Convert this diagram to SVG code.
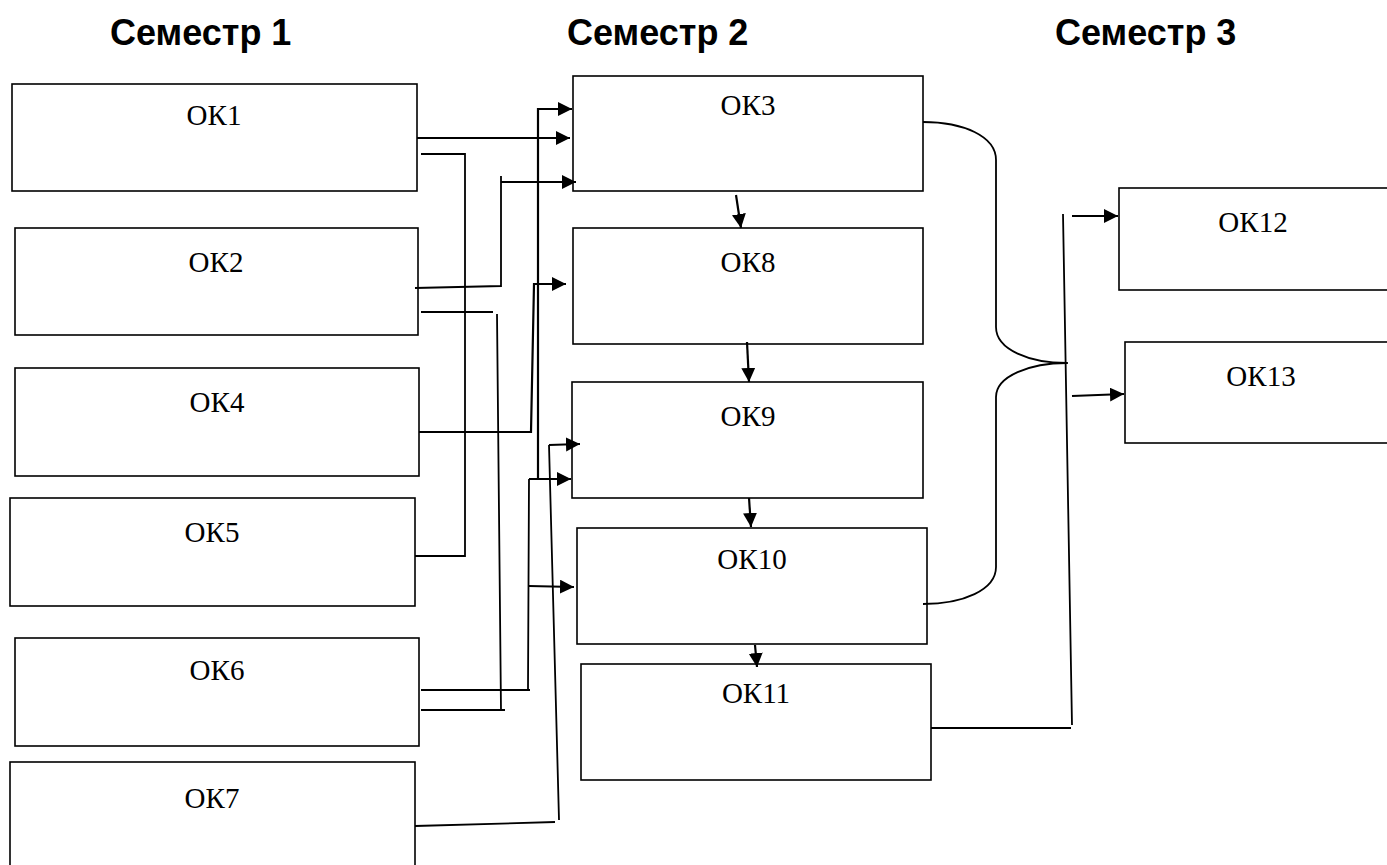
<svg xmlns="http://www.w3.org/2000/svg" width="1387" height="865" viewBox="0 0 1387 865">
<style>
.box{fill:#fff;stroke:#000;stroke-width:1.6}
.lbl{font-family:"Liberation Serif","Times New Roman",serif;font-size:29px;fill:#000;text-anchor:middle}
.ttl{font-family:"Liberation Sans",Arial,sans-serif;font-size:36px;font-weight:bold;fill:#000}
.ln{fill:none;stroke:#000;stroke-width:1.8}
.ar{fill:none;stroke:#000;stroke-width:2.2;marker-end:url(#ah)}
</style>
<defs>
<marker id="ah" markerUnits="userSpaceOnUse" markerWidth="15" markerHeight="15" refX="14" refY="7" orient="auto" viewBox="0 0 15 15">
<path d="M0,0 L14,7 L0,14 z" fill="#000"/>
</marker>
</defs>
<rect width="1387" height="865" fill="#fff"/>
<g id="titles">
<text class="ttl" x="110" y="45">Семестр 1</text>
<text class="ttl" x="567" y="45">Семестр 2</text>
<text class="ttl" x="1055" y="45">Семестр 3</text>
</g>
<g id="ok1"><rect class="box" x="12" y="84" width="405" height="107"/><text class="lbl" x="214" y="125">ОК1</text></g>
<g id="ok2"><rect class="box" x="15" y="228" width="403" height="107"/><text class="lbl" x="216" y="272">ОК2</text></g>
<g id="ok4"><rect class="box" x="15" y="368" width="404" height="108"/><text class="lbl" x="217" y="412">ОК4</text></g>
<g id="ok5"><rect class="box" x="10" y="498" width="405" height="108"/><text class="lbl" x="212" y="542">ОК5</text></g>
<g id="ok6"><rect class="box" x="15" y="638" width="404" height="108"/><text class="lbl" x="217" y="680">ОК6</text></g>
<g id="ok7"><rect class="box" x="10" y="762" width="405" height="110"/><text class="lbl" x="212" y="808">ОК7</text></g>
<g id="ok3"><rect class="box" x="573" y="76" width="350" height="115"/><text class="lbl" x="748" y="115">ОК3</text></g>
<g id="ok8"><rect class="box" x="573" y="228" width="350" height="116"/><text class="lbl" x="748" y="272">ОК8</text></g>
<g id="ok9"><rect class="box" x="572" y="382" width="351" height="116"/><text class="lbl" x="748" y="426">ОК9</text></g>
<g id="ok10"><rect class="box" x="577" y="528" width="350" height="116"/><text class="lbl" x="752" y="569">ОК10</text></g>
<g id="ok11"><rect class="box" x="581" y="664" width="350" height="116"/><text class="lbl" x="756" y="703">ОК11</text></g>
<g id="ok12"><rect class="box" x="1119" y="188" width="280" height="102"/><text class="lbl" x="1253" y="232">ОК12</text></g>
<g id="ok13"><rect class="box" x="1125" y="342" width="280" height="101"/><text class="lbl" x="1261" y="386">ОК13</text></g>
<g id="connectors">
<path class="ar" d="M417,138 L570,138"/>
<path class="ln" d="M421,154 L465,154 L465,556 L415,556"/>
<path class="ln" d="M415,288 L501,286 L501,176"/>
<path class="ar" d="M501,182 L576,182"/>
<path class="ln" d="M421,312 L493,312 M497,314 L501,710 M421,710 L505,710"/>
<path class="ar" d="M419,432 L531,432 L534,284 L566,284"/>
<path class="ln" d="M421,690 L530,690 M528,690 L529,479"/>
<path class="ar" d="M529,479 L571,479"/>
<path class="ar" d="M538,479 L538,109 L572,109"/>
<path class="ar" d="M529,586 L574,587"/>
<path class="ln" d="M415,826 L555,822 M559,820 L549,445"/>
<path class="ar" d="M549,445 L580,444"/>
<path class="ar" d="M736,195 L741,228"/>
<path class="ar" d="M747,342 L749,382"/>
<path class="ar" d="M749,498 L751,527"/>
<path class="ar" d="M755,645 L757,667"/>
<path class="ln" d="M923,122 C963,122 996,136 996,160 L996,327 C996,350 1030,363 1067,363 C1030,363 996,376 996,397 L996,567 C996,590 963,604 923,604"/>
<path class="ln" d="M1055,363 L1068,363"/>
<path class="ln" d="M1063,214 L1072,725 M931,728 L1071,728"/>
<path class="ar" d="M1072,216 L1118,216"/>
<path class="ar" d="M1072,396 L1124,394"/>
</g>
</svg>
